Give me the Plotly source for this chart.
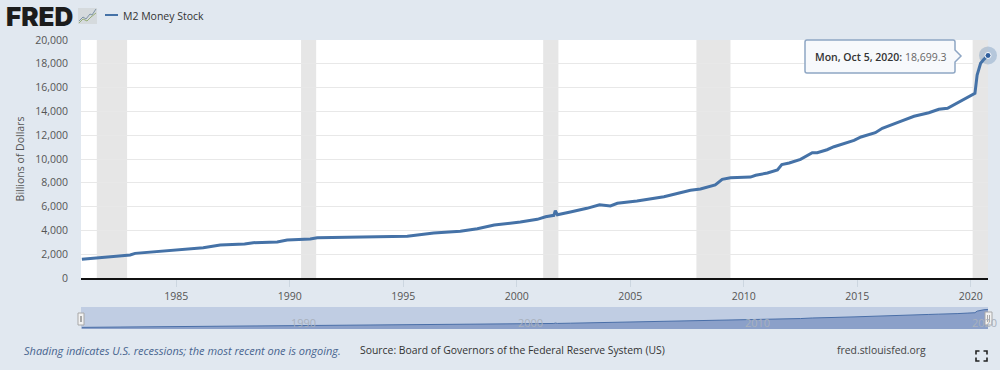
import plotly.graph_objects as go

dates = ["1980-11-03","1982-12-20","1983-03-10","1984-09-24","1986-03-10","1986-12-08","1988-01-04","1988-05-23","1989-06-12","1989-11-20","1990-06-18","1990-11-26","1991-03-18","1992-09-07","1995-03-06","1996-05-06","1997-07-07","1998-04-06","1999-01-04","2000-02-28","2000-08-06","2000-11-27","2001-04-09","2001-08-20","2001-09-12","2001-10-15","2002-05-13","2003-02-03","2003-08-25","2004-02-16","2004-06-07","2005-04-18","2006-06-26","2007-08-27","2008-02-04","2008-05-26","2008-09-29","2009-01-19","2009-06-01","2010-01-04","2010-04-19","2010-07-12","2011-01-17","2011-06-27","2011-09-05","2012-01-02","2012-07-02","2013-01-07","2013-03-28","2013-09-02","2013-12-23","2014-11-10","2015-03-02","2015-10-19","2016-02-08","2016-11-28","2017-07-03","2018-02-26","2018-08-06","2018-12-24","2019-05-27","2019-11-04","2020-03-09","2020-04-13","2020-06-08","2020-07-31","2020-10-05"]
m2 = [1570,1930,2070,2295,2550,2770,2860,2970,3025,3195,3225,3280,3390,3420,3500,3780,3920,4145,4455,4705,4815,4930,5150,5265,5660,5320,5545,5855,6160,6050,6275,6470,6830,7370,7480,7660,7815,8290,8430,8460,8480,8630,8820,9075,9525,9665,9970,10530,10530,10780,11030,11570,11850,12210,12580,13170,13590,13890,14180,14260,14680,15180,15520,17060,18040,18380,18699.3]
recession_starts = ["1981-07-01","1990-07-01","2001-03-01","2007-12-01","2020-02-01"]
recession_ends = ["1982-11-01","1991-03-01","2001-11-01","2009-06-01","2020-10-05"]
y_ticks = [0,2000,4000,6000,8000,10000,12000,14000,16000,18000,20000]
x_ticks = ["1985-01-01","1990-01-01","1995-01-01","2000-01-01","2005-01-01","2010-01-01","2015-01-01","2020-01-01"]
x_labels = ["1985","1990","1995","2000","2005","2010","2015","2020"]
nav_ticks = ["1990-01-01","2000-01-01","2010-01-01","2020-01-01"]
nav_labels = ["1990","2000","2010","2020"]
x_range = ["1980-10-20","2020-10-05"]

W, H = 1000, 370
fx = lambda p: p / W
fy = lambda p: 1 - p / H
FONT = "Open Sans"
BG = "#e1e8f0"
BLUE = "#4572a7"

fig = go.Figure()
fig.add_trace(go.Scatter(x=dates, y=m2, mode="lines", name="M2 Money Stock",
                         line=dict(color=BLUE, width=3), hoverinfo="x+y"))
fig.add_trace(go.Scatter(x=dates[-1:], y=m2[-1:], mode="markers", cliponaxis=False, showlegend=False,
                         marker=dict(size=18, color="rgba(69,114,167,0.28)"), hoverinfo="skip"))
fig.add_trace(go.Scatter(x=dates[-1:], y=m2[-1:], mode="markers", cliponaxis=False, showlegend=False,
                         marker=dict(size=6, color="#2f5f9e", line=dict(color="#ffffff", width=1)), hoverinfo="skip"))
fig.add_trace(go.Scatter(x=dates, y=m2, mode="lines", xaxis="x2", yaxis="y2", showlegend=False,
                         line=dict(color="#4a6fa8", width=1), fill="tozeroy",
                         fillcolor="#8ba0c9", hoverinfo="skip"))

shapes = []
for s, e in zip(recession_starts, recession_ends):
    shapes.append(dict(type="rect", xref="x", yref="paper", x0=s, x1=e, y0=fy(278), y1=fy(40),
                       fillcolor="#e6e6e6", line_width=0, layer="below"))
shapes.append(dict(type="rect", xref="paper", yref="paper", x0=fx(81), x1=fx(988), y0=fy(329), y1=fy(307),
                   fillcolor="#c0cde3", line_width=0, layer="below"))
shapes.append(dict(type="line", xref="paper", yref="paper", x0=fx(105), x1=fx(118), y0=fy(15), y1=fy(15),
                   line=dict(color=BLUE, width=2)))
def P(x, y):
    return f"{fx(x):.5f},{fy(y):.5f}"
callout = ("M" + P(807, 40) + "L" + P(953, 40) + "Q" + P(955, 40) + " " + P(955, 42) + "L" + P(955, 50) +
           "L" + P(961, 56) + "L" + P(955, 62) + "L" + P(955, 71) + "Q" + P(955, 73) + " " + P(953, 73) +
           "L" + P(807, 73) + "Q" + P(805, 73) + " " + P(805, 71) + "L" + P(805, 42) + "Q" + P(805, 40) + " " + P(807, 40) + "Z")
shapes.append(dict(type="path", xref="paper", yref="paper", path=callout,
                   fillcolor="rgba(247,249,252,0.95)", line=dict(color="#8ea6c4", width=1.5)))
for a, b, t, u in [(78, 84, 313, 325), (985, 992, 312, 325)]:
    shapes.append(dict(type="rect", xref="paper", yref="paper", x0=fx(a), x1=fx(b), y0=fy(u), y1=fy(t),
                       fillcolor="#f2f2f2", line=dict(color="#a8a8a8", width=1)))
    for m in (a + 2.5, b - 2.5):
        shapes.append(dict(type="line", xref="paper", yref="paper", x0=fx(m), x1=fx(m), y0=fy(u - 3), y1=fy(t + 3),
                           line=dict(color="#a8a8a8", width=1)))
for cx, cy, dx, dy in [(976, 351, 1, 1), (987, 351, -1, 1), (976, 361, 1, -1), (987, 361, -1, -1)]:
    shapes.append(dict(type="path", xref="paper", yref="paper",
                       path="M" + P(cx + 3.5 * dx, cy) + "L" + P(cx, cy) + "L" + P(cx, cy + 3.5 * dy),
                       line=dict(color="#222222", width=1.6)))
shapes.append(dict(type="rect", xref="paper", yref="paper", x0=fx(78), x1=fx(97), y0=fy(24), y1=fy(8),
                   fillcolor="#d5dadd", line_width=0))
shapes.append(dict(type="path", xref="paper", yref="paper",
                   path="M" + P(79, 21) + "L" + P(83, 17) + "L" + P(86, 19) + "L" + P(90, 14) + "L" + P(92, 15) + "L" + P(96, 9),
                   line=dict(color="#7d93a6", width=1)))
shapes.append(dict(type="path", xref="paper", yref="paper",
                   path="M" + P(79, 23) + "L" + P(83, 19) + "L" + P(87, 21) + "L" + P(91, 17) + "L" + P(96, 13),
                   line=dict(color="#97ad78", width=1)))

def note(text, x, y, size=10.5, color="#555555", anchor="left", style="normal"):
    return dict(text=text, xref="paper", yref="paper", x=fx(x), y=fy(y), xanchor=anchor, yanchor="middle",
                showarrow=False, font=dict(family=FONT, size=size, color=color, style=style))

annotations = [
    dict(text="FRED", xref="paper", yref="paper", x=fx(4), y=fy(16), xanchor="left", yanchor="middle", showarrow=False,
         font=dict(family="Inter", size=26, color="#1c1c1c", weight=900)),
    note("M2 Money Stock", 120.5, 16, color="#333333"),
    note("Shading indicates U.S. recessions; the most recent one is ongoing.", 22, 350, size=11, color="#47648f", style="italic"),
    note("Source: Board of Governors of the Federal Reserve System (US)", 358, 350, size=10.4, color="#333333"),
    note("fred.stlouisfed.org", 834.5, 350, size=10.4, color="#444444"),
    note('<span style="font-weight:600">Mon, Oct 5, 2020:</span> <span style="fill:#666666">18,699.3</span>',
         813, 57, size=10.5, color="#333333"),
]
for d, t in zip(nav_ticks, nav_labels):
    annotations.append(dict(text=t, xref="x2", yref="paper", x=d, y=fy(322), xshift=14, yanchor="middle", showarrow=False,
                            font=dict(family=FONT, size=11, color="#a9b1bd")))

fig.update_layout(
    width=W, height=H, autosize=False, margin=dict(l=0, r=0, t=0, b=0, pad=0),
    paper_bgcolor=BG, plot_bgcolor="#ffffff", showlegend=False,
    font=dict(family=FONT, size=11, color="#555555"),
    shapes=shapes, annotations=annotations,
    xaxis=dict(domain=[fx(81), fx(988)], anchor="y", range=x_range, type="date", automargin=False,
               tickmode="array", tickvals=x_ticks, ticktext=x_labels, ticks="outside", ticklen=7,
               tickcolor="#ccd6e0", tickfont=dict(size=10.5, color="#555555"), showgrid=False,
               showline=True, linecolor="#111111", linewidth=2, zeroline=False),
    yaxis=dict(domain=[fy(278), fy(40)], anchor="x", range=[0, 20000], tickmode="array", tickvals=y_ticks,
               tickformat=",d", gridcolor="#e8e8e8", gridwidth=1, zeroline=False, ticks="", automargin=False,
               tickfont=dict(size=10.5, color="#555555"), ticklabelstandoff=12,
               title=dict(text="Billions of Dollars", font=dict(size=10.5, color="#555555"), standoff=8)),
    xaxis2=dict(domain=[fx(81), fx(988)], anchor="y2", range=x_range, type="date", visible=False, automargin=False),
    yaxis2=dict(domain=[fy(329), fy(307)], anchor="x2", range=[0, 21000], visible=False, automargin=False),
)
fig.write_html("out.html", config={"displayModeBar": False},
               post_script="document.body.style.margin='0';document.body.style.overflow='hidden';")
